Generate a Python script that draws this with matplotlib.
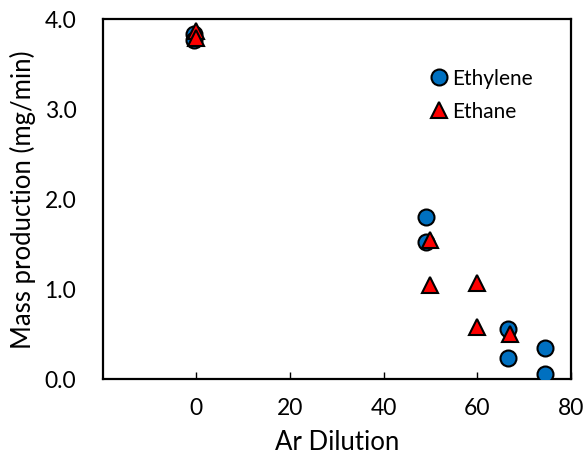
import matplotlib
matplotlib.use("Agg")
import matplotlib.pyplot as plt

# Ar dilution (%) vs mass production rate (mg/min)
ethyleneX = [-0.5, -0.5, 49, 49, 66.5, 66.5, 74.5, 74.5]
ethyleneY = [3.83, 3.76, 1.80, 1.52, 0.55, 0.23, 0.34, 0.05]
ethaneX = [0, 0, 50, 50, 60, 60, 67]
ethaneY = [3.86, 3.79, 1.54, 1.04, 1.07, 0.58, 0.50]

xTicks = [0, 20, 40, 60, 80]
yTicks = [0.0, 1.0, 2.0, 3.0, 4.0]

plt.rcParams['font.family'] = ['Lato', 'DejaVu Sans']

fig = plt.figure(figsize=(5.85, 4.6), dpi=100)
ax = fig.add_axes([0.1755, 0.174, 0.8005, 0.783])

ax.plot(ethyleneX, ethyleneY, linestyle='none', marker='o', markersize=11.5,
        markerfacecolor='#0070C0', markeredgecolor='black', markeredgewidth=1.5,
        label='Ethylene', zorder=3)
ax.plot(ethaneX, ethaneY, linestyle='none', marker='^', markersize=11.5,
        markerfacecolor='#FF0000', markeredgecolor='black', markeredgewidth=1.5,
        label='Ethane', zorder=4)

ax.set_xlim(-20, 80)
ax.set_ylim(0, 4.0)
ax.set_xticks(xTicks)
ax.set_yticks(yTicks)
ax.set_yticklabels([f"{t:.1f}" for t in yTicks])

ax.tick_params(axis='x', direction='in', length=5, width=1, labelsize=16.5, pad=13)
ax.tick_params(axis='y', length=0, labelsize=16.5, pad=19)
for spine in ax.spines.values():
    spine.set_linewidth(1.6)
    spine.set_color('black')

ax.set_xlabel('Ar Dilution', fontsize=18.5, labelpad=8)
ax.set_ylabel('Mass production (mg/min)', fontsize=18.5, labelpad=6)

ax.legend(loc='upper left', bbox_to_anchor=(0.70, 0.862), frameon=False,
          fontsize=15, handlelength=0.8, handletextpad=0.25, labelspacing=0.6,
          borderaxespad=0, borderpad=0)

fig.savefig('out.png', dpi=100)
